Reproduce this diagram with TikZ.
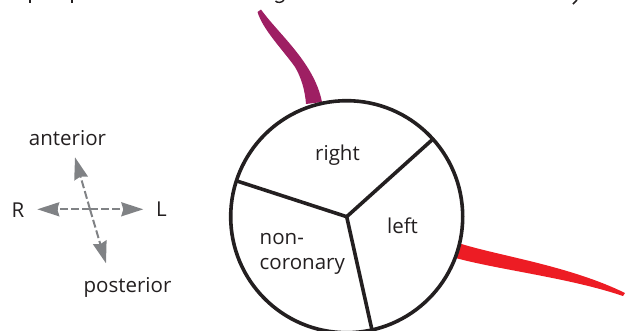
\documentclass[tikz,border=0pt]{standalone}
\usepackage{fontspec}
\setmainfont{Open Sans}
\usetikzlibrary{arrows.meta}
\definecolor{inkblack}{HTML}{231F20}
\definecolor{axisgray}{HTML}{808285}
\definecolor{rightartery}{HTML}{9E1F63}
\definecolor{leftartery}{HTML}{ED1C24}
\tikzset{
  cusplabel/.style={font=\fontsize{20.5}{24}\selectfont,text=inkblack,inner sep=0pt,align=left},
  wall/.style={draw=inkblack,line width=3.6pt},
  axis/.style={draw=axisgray,line width=2pt,dash pattern=on 8pt off 3pt,-{Stealth[length=22pt,width=14pt,inset=2pt]}}
}
\begin{document}
\begin{tikzpicture}[x=1pt,y=-1pt]
  \useasboundingbox (0,0) rectangle (625,330);
  % coronary arteries
  \fill[rightartery] (257.5,12) .. controls (263,30) and (283,50) .. (295,67)
    .. controls (301,77) and (305,90) .. (306,104) -- (322,102)
    .. controls (318,82) and (307,65) .. (295,50)
    .. controls (283,35) and (270,22) .. (261,9.5) -- cycle;
  \fill[leftartery] (460.5,243.7) .. controls (500,256) and (570,266) .. (625,293) -- (623,296)
    .. controls (570,278) and (500,270) .. (455.5,258) -- cycle;
  % valve
  \coordinate (hub) at (346.7,216.7);
  \node[circle,wall,minimum size=232pt,inner sep=0pt] (annulus) at (hub) {};
  \coordinate (commA) at (432.7,139.3);
  \coordinate (commB) at (236,180.7);
  \coordinate (commC) at (371.7,328.7);
  \draw[wall] (hub) -- (commA);
  \draw[wall] (hub) -- (commB);
  \draw[wall] (hub) -- (commC);
  \node[cusplabel] (rightcusp) at (337.5,155) {right};
  \node[cusplabel] (leftcusp) at (402.5,226) {left};
  \node[cusplabel,anchor=west] (noncusp) at (259.5,239) {non-};
  \node[cusplabel,anchor=west] (noncuspb) at (259.5,266) {coronary};
  % orientation
  \coordinate (origin) at (90,209.3);
  \coordinate (tipR) at (37.3,209.3);
  \coordinate (tipL) at (143.3,209.3);
  \coordinate (tipA) at (75,157.3);
  \coordinate (tipP) at (106,263.3);
  \draw[axis] (origin) -- (tipR);
  \draw[axis] (origin) -- (tipL);
  \draw[axis] (origin) -- (tipA);
  \draw[axis] (origin) -- (tipP);
  \node[cusplabel] (anterior) at (67.5,138) {anterior};
  \node[cusplabel] (posterior) at (127.5,287) {posterior};
  \node[cusplabel] (labelR) at (18,210) {R};
  \node[cusplabel] (labelL) at (161.5,209) {L};
  % tails of the line above
  \draw[inkblack,line width=1.6pt] (30,0) -- (30,3);
  \draw[inkblack,line width=1.6pt] (72,0) -- (72,3);
  \draw[inkblack,line width=1.4pt] (275.5,1) .. controls (277,3) and (282,3) .. (284,0);
  \draw[inkblack,line width=1.6pt] (577,0) -- (573,4);
\end{tikzpicture}
\end{document}
